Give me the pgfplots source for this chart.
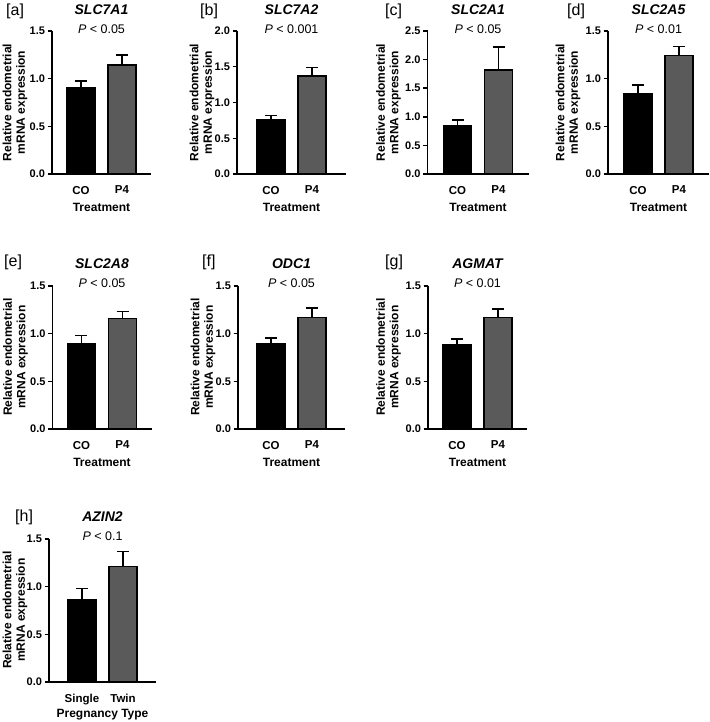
\documentclass[border=0pt]{standalone}
\usepackage{fontspec}
\setmainfont{Liberation Sans}
\usepackage{pgfplots}
\pgfplotsset{compat=1.18}
\definecolor{pfour}{RGB}{90,90,90}
\pgfplotsset{
  panel/.style={
    scale only axis, height=143pt, ymin=0,
    axis x line*=bottom, axis y line*=left,
    axis line style={line width=1.5pt, black},
    xtick={0,1}, xtick style={draw=none},
    ytick distance=0.5,
    tick align=outside, major tick length=4.5pt,
    ytick style={line width=1.5pt, black},
    yticklabel style={font=\bfseries\fontsize{11}{12}\selectfont, xshift=1pt,
      /pgf/number format/fixed, /pgf/number format/fixed zerofill,
      /pgf/number format/precision=1, /pgf/number format/assume math mode=true},
    xticklabel style={font=\bfseries\fontsize{11.5}{13}\selectfont, yshift=-4pt},
    clip=false,
  },
  cobar/.style={ybar, bar width=28pt, bar shift=0pt, fill=black, draw=black, line width=1.5pt,
    error bars/.cd, y dir=plus, y explicit,
    error bar style={line width=1.5pt, black},
    error mark options={rotate=90, line width=1.5pt, black, mark size=6pt}},
  pbar/.style={ybar, bar width=28pt, bar shift=0pt, fill=pfour, draw=black, line width=1.5pt,
    error bars/.cd, y dir=plus, y explicit,
    error bar style={line width=1.5pt, black},
    error mark options={rotate=90, line width=1.5pt, black, mark size=6pt}},
}
\newcommand{\ttl}[4]{% cx, title y, gene, p-text
  \node[font=\bfseries\itshape\fontsize{14}{16}\selectfont] at (#1pt,-#2pt) {#3};
  \node[font=\fontsize{12.5}{14}\selectfont] at (#1pt,-#2pt-19pt) {#4};}
\newcommand{\lett}[3]{\node[anchor=west, inner sep=0pt, font=\fontsize{16}{18}\selectfont] at (#1pt,-#2pt) {[#3]};}
\newcommand{\ylab}[2]{\node[rotate=90, align=center, font=\bfseries\fontsize{12}{13.5}\selectfont] at (#1pt,-#2pt) {Relative endometrial\\mRNA expression};}
\newcommand{\xlab}[3]{\node[font=\bfseries\fontsize{12}{14}\selectfont] at (#1pt,-#2pt) {#3};}
\begin{document}
\begin{tikzpicture}
\useasboundingbox (0pt,0pt) rectangle (709pt,-722pt);

% [a] SLC7A1
\begin{axis}[panel, at={(52pt,-174pt)}, anchor=south west, width=99pt,
  xmin=-0.7073, xmax=1.7073, ymax=1.5, xticklabels={CO,P4}]
\addplot[cobar] coordinates {(0,0.90) +- (0,0.075)};
\addplot[pbar] coordinates {(1,1.145) +- (0,0.105)};
\end{axis}
% [b] SLC7A2
\begin{axis}[panel, at={(237pt,-174pt)}, anchor=south west, width=109pt,
  xmin=-0.8293, xmax=1.8293, ymax=2.0, xticklabels={CO,P4}]
\addplot[cobar] coordinates {(0,0.76) +- (0,0.06)};
\addplot[pbar] coordinates {(1,1.37) +- (0,0.12)};
\end{axis}
% [c] SLC2A1
\begin{axis}[panel, at={(427.5pt,-174pt)}, anchor=south west, width=101pt,
  xmin=-0.7317, xmax=1.7317, ymax=2.5, xticklabels={CO,P4}]
\addplot[cobar] coordinates {(0,0.85) +- (0,0.09)};
\addplot[pbar] coordinates {(1,1.82) +- (0,0.40)};
\end{axis}
% [d] SLC2A5
\begin{axis}[panel, at={(608pt,-174pt)}, anchor=south west, width=101pt,
  xmin=-0.7317, xmax=1.7317, ymax=1.5, xticklabels={CO,P4}]
\addplot[cobar] coordinates {(0,0.84) +- (0,0.095)};
\addplot[pbar] coordinates {(1,1.245) +- (0,0.09)};
\end{axis}
% [e] SLC2A8
\begin{axis}[panel, at={(52.5pt,-429pt)}, anchor=south west, width=99pt,
  xmin=-0.7073, xmax=1.7073, ymax=1.5, xticklabels={CO,P4}]
\addplot[cobar] coordinates {(0,0.89) +- (0,0.09)};
\addplot[pbar] coordinates {(1,1.16) +- (0,0.07)};
\end{axis}
% [f] ODC1
\begin{axis}[panel, at={(238pt,-429pt)}, anchor=south west, width=107pt,
  xmin=-0.8049, xmax=1.8049, ymax=1.5, xticklabels={CO,P4}]
\addplot[cobar] coordinates {(0,0.89) +- (0,0.065)};
\addplot[pbar] coordinates {(1,1.17) +- (0,0.10)};
\end{axis}
% [g] AGMAT
\begin{axis}[panel, at={(428pt,-429pt)}, anchor=south west, width=99pt,
  xmin=-0.7073, xmax=1.7073, ymax=1.5, xticklabels={CO,P4}]
\addplot[cobar] coordinates {(0,0.885) +- (0,0.06)};
\addplot[pbar] coordinates {(1,1.17) +- (0,0.09)};
\end{axis}
% [h] AZIN2
\begin{axis}[panel, at={(49pt,-682pt)}, anchor=south west, width=107pt,
  xmin=-0.8049, xmax=1.8049, ymax=1.5, xticklabels={Single,Twin}]
\addplot[cobar] coordinates {(0,0.86) +- (0,0.12)};
\addplot[pbar] coordinates {(1,1.21) +- (0,0.16)};
\end{axis}

% titles and p-values
\ttl{101.5}{10}{SLC7A1}{\textit{P} < 0.05}
\ttl{291.5}{10}{SLC7A2}{\textit{P} < 0.001}
\ttl{478}{10}{SLC2A1}{\textit{P} < 0.05}
\ttl{658.5}{10}{SLC2A5}{\textit{P} < 0.01}
\ttl{102}{264}{SLC2A8}{\textit{P} < 0.05}
\ttl{291.5}{264}{ODC1}{\textit{P} < 0.05}
\ttl{477.5}{264}{AGMAT}{\textit{P} < 0.01}
\ttl{102.5}{517}{AZIN2}{\textit{P} < 0.1}
% panel letters
\lett{6}{11}{a}
\lett{200}{11}{b}
\lett{385}{11}{c}
\lett{567}{11}{d}
\lett{4}{262}{e}
\lett{202}{262}{f}
\lett{385}{262}{g}
\lett{15}{517}{h}
% y labels
\ylab{15}{102.5}
\ylab{202}{102.5}
\ylab{388.5}{102.5}
\ylab{568}{102.5}
\ylab{15.5}{357}
\ylab{203}{357}
\ylab{388.5}{357}
\ylab{15}{610}
% x labels
\xlab{101.5}{207}{Treatment}
\xlab{291.5}{207}{Treatment}
\xlab{478}{207}{Treatment}
\xlab{658.5}{207}{Treatment}
\xlab{102}{462}{Treatment}
\xlab{291.5}{462}{Treatment}
\xlab{477.5}{462}{Treatment}
\xlab{102.5}{715}{Pregnancy Type}
\end{tikzpicture}
\end{document}
